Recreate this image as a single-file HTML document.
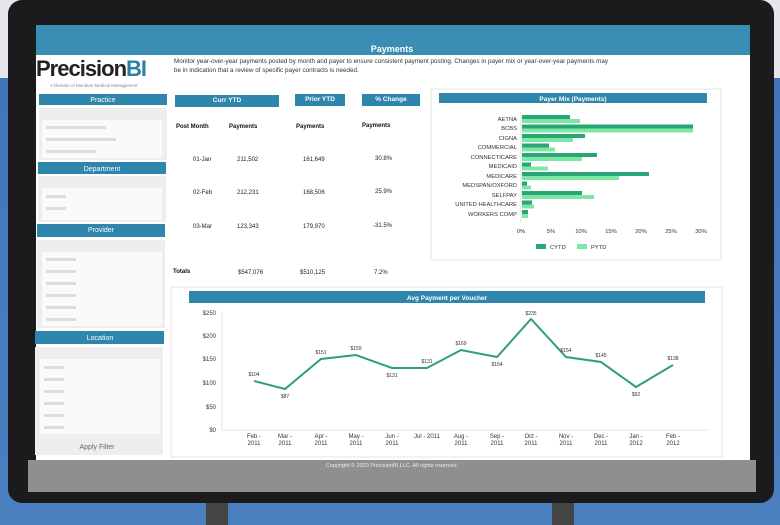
<!DOCTYPE html>
<html><head><meta charset="utf-8"><style>
html,body{margin:0;padding:0;width:780px;height:525px;overflow:hidden;background:#3c70b4}
svg{display:block;font-family:"Liberation Sans",sans-serif}
</style></head><body>
<svg width="780" height="525" viewBox="0 0 780 525">
<defs><linearGradient id="bg" x1="0" y1="0" x2="0" y2="1"><stop offset="0" stop-color="#3f74b8"/><stop offset="1" stop-color="#4a80c0"/></linearGradient></defs>
<rect width="780" height="525" fill="url(#bg)"/>
<rect width="780" height="78" fill="#e4e6ea"/>
<rect x="206" y="495" width="22" height="30" fill="#444"/>
<rect x="552" y="495" width="22" height="30" fill="#444"/>
<rect x="8" y="0" width="766" height="503" rx="14" fill="#1b1b1d"/>
<rect x="36" y="25" width="714" height="440" fill="#fff"/>
<rect x="36" y="25" width="714" height="30" fill="#3a8db3"/>
<text x="392" y="52" font-size="9" fill="#fff" font-weight="bold" text-anchor="middle">Payments</text>
<rect x="28" y="460" width="728" height="32" fill="#8f8f8f"/>
<text x="392" y="467" font-size="5.5" fill="#eee" text-anchor="middle">Copyright © 2020 PrecisionBI,LLC.  All rights reserved.</text>
<text x="36" y="76" font-size="22" font-weight="bold" fill="#222" letter-spacing="-1">Precision<tspan fill="#2c7fa8">BI</tspan></text>
<text x="50" y="87" font-size="4.5" fill="#888">A Division of Meridian Medical Management</text>
<text x="174" y="63" font-size="6.3" fill="#333">Monitor year-over-year payments posted by month and payer to ensure consistent payment posting.  Changes in payer mix or year-over-year payments may</text>
<text x="174" y="72" font-size="6.3" fill="#333">be in indication that a review of specific payer contracts is needed.</text>
<!-- sidebar -->
<g fill="#2e86ad">
<rect x="39" y="94" width="128" height="11"/><rect x="38" y="162" width="128" height="12"/><rect x="37" y="224" width="128" height="13"/><rect x="35" y="331" width="129" height="13"/></g>
<g font-size="7" fill="#fff" text-anchor="middle"><text x="103" y="102">Practice</text><text x="102" y="171">Department</text><text x="101" y="232">Provider</text><text x="100" y="340">Location</text></g>
<g fill="#eee"><rect x="39" y="108" width="128" height="52"/><rect x="38" y="176" width="128" height="46"/><rect x="37" y="240" width="128" height="88"/><rect x="35" y="347" width="128" height="108"/></g>
<g fill="#fafafa"><rect x="42" y="120" width="120" height="38"/><rect x="42" y="188" width="120" height="32"/><rect x="42" y="252" width="120" height="74"/><rect x="40" y="359" width="120" height="75"/></g>
<g fill="#ddd">
<rect x="46" y="126" width="60" height="3"/><rect x="46" y="138" width="70" height="3"/><rect x="46" y="150" width="50" height="3"/>
<rect x="46" y="195" width="20" height="3"/><rect x="46" y="207" width="20" height="3"/>
<rect x="46" y="258" width="30" height="3"/><rect x="46" y="270" width="30" height="3"/><rect x="46" y="282" width="30" height="3"/><rect x="46" y="294" width="30" height="3"/><rect x="46" y="306" width="30" height="3"/><rect x="46" y="318" width="30" height="3"/>
<rect x="44" y="366" width="20" height="3"/><rect x="44" y="378" width="20" height="3"/><rect x="44" y="390" width="20" height="3"/><rect x="44" y="402" width="20" height="3"/><rect x="44" y="414" width="20" height="3"/><rect x="44" y="426" width="20" height="3"/></g>
<text x="97" y="449" font-size="7" fill="#666" text-anchor="middle">Apply Filter</text>
<!-- table -->
<g fill="#2e86ad"><rect x="175" y="95" width="104" height="12"/><rect x="295" y="94" width="50" height="12"/><rect x="362" y="94" width="58" height="12"/></g>
<g font-size="6.5" fill="#fff" font-weight="bold" text-anchor="middle"><text x="227" y="102">Curr YTD</text><text x="320" y="101">Prior YTD</text><text x="391" y="101">% Change</text></g>
<g font-size="6" fill="#111" font-weight="bold"><text x="176" y="128">Post Month</text><text x="229" y="128">Payments</text><text x="296" y="128">Payments</text><text x="362" y="127">Payments</text><text x="173" y="273">Totals</text></g>
<g font-size="6" fill="#222">
<text x="193" y="161">01-Jan</text><text x="237" y="161">211,502</text><text x="303" y="161">161,649</text><text x="375" y="160">30.8%</text>
<text x="193" y="194">02-Feb</text><text x="237" y="194">212,231</text><text x="303" y="194">168,506</text><text x="375" y="193">25.9%</text>
<text x="193" y="228">03-Mar</text><text x="237" y="228">123,343</text><text x="303" y="228">179,970</text><text x="373" y="227">-31.5%</text>
<text x="238" y="274">$547,076</text><text x="300" y="274">$510,125</text><text x="374" y="274">7.2%</text></g>
<!-- payer mix -->
<rect x="431" y="89" width="290" height="171" fill="#fff" stroke="#e6e6e6"/>
<rect x="439" y="93" width="268" height="10" fill="#2e86ad"/>
<text x="573" y="101" font-size="6.5" fill="#fff" font-weight="bold" text-anchor="middle">Payer Mix (Payments)</text>
<line x1="521" y1="112" x2="521" y2="223" stroke="#ccc" stroke-width="0.6"/>
<g font-size="5.8" fill="#333" text-anchor="end">
<text x="517" y="121">AETNA</text><text x="517" y="130">BCBS</text><text x="517" y="140">CIGNA</text><text x="517" y="149">COMMERCIAL</text><text x="517" y="159">CONNECTICARE</text><text x="517" y="168">MEDICAID</text><text x="517" y="178">MEDICARE</text><text x="517" y="187">MEDSPAN/OXFORD</text><text x="517" y="197">SELFPAY</text><text x="517" y="206">UNITED HEALTHCARE</text><text x="517" y="216">WORKERS COMP</text></g>
<g fill="#2aa574">
<rect x="522" y="115" width="48" height="4"/><rect x="522" y="124.5" width="171" height="4"/><rect x="522" y="134" width="63" height="4"/><rect x="522" y="143.5" width="27" height="4"/><rect x="522" y="153" width="75" height="4"/><rect x="522" y="162.5" width="9" height="4"/><rect x="522" y="172" width="127" height="4"/><rect x="522" y="181.5" width="5" height="4"/><rect x="522" y="191" width="60" height="4"/><rect x="522" y="200.5" width="10" height="4"/><rect x="522" y="210" width="6" height="4"/></g>
<g fill="#7de8a5">
<rect x="522" y="119" width="58" height="4"/><rect x="522" y="128.5" width="171" height="4"/><rect x="522" y="138" width="51" height="4"/><rect x="522" y="147.5" width="33" height="4"/><rect x="522" y="157" width="60" height="4"/><rect x="522" y="166.5" width="26" height="4"/><rect x="522" y="176" width="97" height="4"/><rect x="522" y="185.5" width="9" height="4"/><rect x="522" y="195" width="72" height="4"/><rect x="522" y="204.5" width="12" height="4"/><rect x="522" y="214" width="6" height="4"/></g>
<g font-size="5.8" fill="#333" text-anchor="middle"><text x="521" y="233">0%</text><text x="551" y="233">5%</text><text x="581" y="233">10%</text><text x="611" y="233">15%</text><text x="641" y="233">20%</text><text x="671" y="233">25%</text><text x="701" y="233">30%</text></g>
<rect x="536" y="244" width="10" height="5" fill="#2aa574"/><text x="550" y="249" font-size="5.8" fill="#333">CYTD</text>
<rect x="577" y="244" width="10" height="5" fill="#7de8a5"/><text x="591" y="249" font-size="5.8" fill="#333">PYTD</text>
<!-- line chart -->
<rect x="171" y="287" width="551" height="170" fill="#fff" stroke="#e6e6e6"/>
<rect x="189" y="291" width="516" height="12" fill="#2e86ad"/>
<text x="447" y="300" font-size="6.5" fill="#fff" font-weight="bold" text-anchor="middle">Avg Payment per Voucher</text>
<line x1="222" y1="311" x2="222" y2="430" stroke="#ccc" stroke-width="0.6"/>
<line x1="222" y1="430" x2="708" y2="430" stroke="#ccc" stroke-width="0.6"/>
<g font-size="6" fill="#333" text-anchor="end"><text x="216" y="315">$250</text><text x="216" y="338">$200</text><text x="216" y="361">$150</text><text x="216" y="385">$100</text><text x="216" y="409">$50</text><text x="216" y="432">$0</text></g>
<polyline fill="none" stroke="#2e9e7c" stroke-width="2" points="254,381 285,389 321,359 356,355 392,368 427,368 461,350 497,357 531,319 566,357 601,362 636,387 673,365"/>
<g font-size="5" fill="#333" text-anchor="middle">
<text x="254" y="376">$104</text><text x="285" y="398">$87</text><text x="321" y="354">$151</text><text x="356" y="350">$159</text><text x="392" y="377">$131</text><text x="427" y="363">$131</text><text x="461" y="345">$169</text><text x="497" y="366">$154</text><text x="531" y="315">$235</text><text x="566" y="352">$154</text><text x="601" y="357">$145</text><text x="636" y="396">$92</text><text x="673" y="360">$138</text></g>
<g font-size="6" fill="#333" text-anchor="middle">
<text x="254" y="438">Feb -</text><text x="254" y="445">2011</text>
<text x="285" y="438">Mar -</text><text x="285" y="445">2011</text>
<text x="321" y="438">Apr -</text><text x="321" y="445">2011</text>
<text x="356" y="438">May -</text><text x="356" y="445">2011</text>
<text x="392" y="438">Jun -</text><text x="392" y="445">2011</text>
<text x="427" y="438">Jul - 2011</text>
<text x="461" y="438">Aug -</text><text x="461" y="445">2011</text>
<text x="497" y="438">Sep -</text><text x="497" y="445">2011</text>
<text x="531" y="438">Oct -</text><text x="531" y="445">2011</text>
<text x="566" y="438">Nov -</text><text x="566" y="445">2011</text>
<text x="601" y="438">Dec -</text><text x="601" y="445">2011</text>
<text x="636" y="438">Jan -</text><text x="636" y="445">2012</text>
<text x="673" y="438">Feb -</text><text x="673" y="445">2012</text></g>
</svg>
</body></html>
